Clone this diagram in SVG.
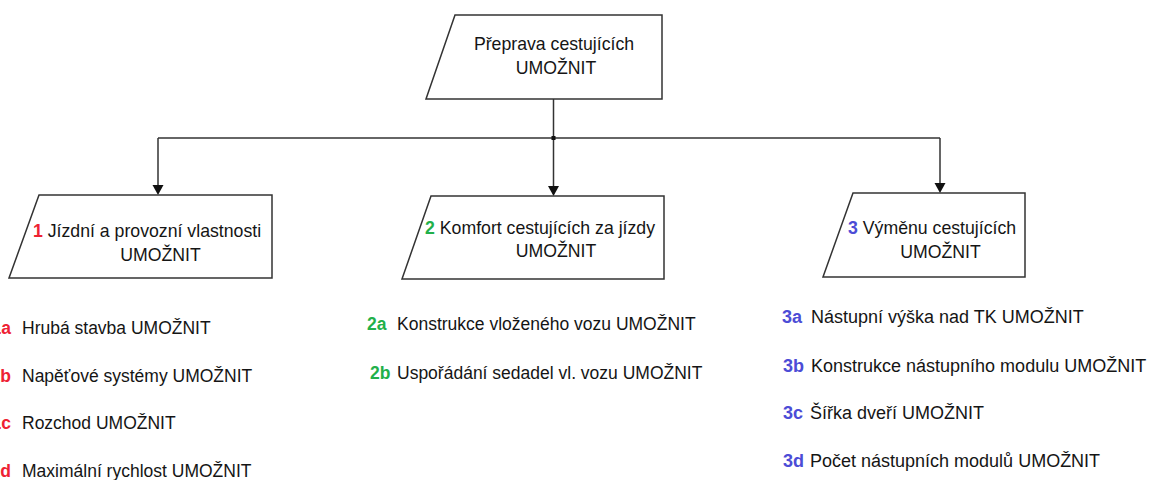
<svg xmlns="http://www.w3.org/2000/svg" width="1154" height="480" viewBox="0 0 1154 480">
  <style>
    .box { fill: #ffffff; stroke: #333333; stroke-width: 1.5; }
    .t { font-family: "Liberation Sans", Arial, sans-serif; font-size: 17.7px; fill: #151515; }
    .li { font-family: "Liberation Sans", Arial, sans-serif; font-size: 17.5px; fill: #151515; }
    .li3 { font-family: "Liberation Sans", Arial, sans-serif; font-size: 18px; fill: #151515; }
    .r { fill: #ee2233; font-weight: bold; }
    .g { fill: #22b04a; font-weight: bold; }
    .b { fill: #4c4cd6; font-weight: bold; }
    .con { fill: none; stroke: #333333; stroke-width: 1.5; }
  </style>
  <rect width="1154" height="480" fill="#ffffff"/>

  <g id="connectors">
    <path class="con" d="M553.5,99 V138"/>
    <path class="con" d="M158,138 H940"/>
    <path class="con" d="M158,138 V185"/>
    <path class="con" d="M553.5,138 V186"/>
    <path class="con" d="M940,138 V183"/>
    <path d="M152.5,185 L163.5,185 L158,195 Z" fill="#111111"/>
    <path d="M548,186 L559,186 L553.5,196 Z" fill="#111111"/>
    <path d="M934.5,183 L945.5,183 L940,193 Z" fill="#111111"/>
    <rect x="551.5" y="136" width="4" height="4" fill="#111111"/>
  </g>

  <g id="root">
    <path class="box" d="M455,15 H662 V99 H426 Z"/>
    <text class="t" x="554" y="50" text-anchor="middle">Přeprava cestujících</text>
    <text class="t" x="556" y="74" text-anchor="middle">UMOŽNIT</text>
  </g>

  <g id="node1">
    <path class="box" d="M39,195 H272 V278 H9 Z"/>
    <text class="t" x="33" y="237"><tspan class="r">1</tspan> Jízdní a provozní vlastnosti</text>
    <text class="t" x="160.5" y="261" text-anchor="middle">UMOŽNIT</text>
  </g>

  <g id="node2">
    <path class="box" d="M431,196 H664 V279 H402 Z"/>
    <text class="t" x="425" y="234"><tspan class="g">2</tspan> Komfort cestujících za jízdy</text>
    <text class="t" x="556" y="257" text-anchor="middle">UMOŽNIT</text>
  </g>

  <g id="node3">
    <path class="box" d="M853,193 H1025 V277 H823 Z"/>
    <text class="t" x="848" y="234"><tspan class="b">3</tspan> Výměnu cestujících</text>
    <text class="t" x="940.5" y="258" text-anchor="middle">UMOŽNIT</text>
  </g>

  <g id="list1">
    <text class="li r" x="11" y="334" text-anchor="end">1a</text>
    <text class="li" x="22" y="334">Hrubá stavba UMOŽNIT</text>
    <text class="li r" x="11" y="382" text-anchor="end">1b</text>
    <text class="li" x="22" y="382">Napěťové systémy UMOŽNIT</text>
    <text class="li r" x="11" y="429" text-anchor="end">1c</text>
    <text class="li" x="22" y="429">Rozchod UMOŽNIT</text>
    <text class="li r" x="11" y="477" text-anchor="end">1d</text>
    <text class="li" x="22" y="477">Maximální rychlost UMOŽNIT</text>
  </g>

  <g id="list2">
    <text class="li g" x="367" y="330">2a</text>
    <text class="li" x="397" y="330">Konstrukce vloženého vozu UMOŽNIT</text>
    <text class="li g" x="370" y="379">2b</text>
    <text class="li" x="397" y="379">Uspořádání sedadel vl. vozu UMOŽNIT</text>
  </g>

  <g id="list3">
    <text class="li3 b" x="782" y="323">3a</text>
    <text class="li3" x="811" y="323">Nástupní výška nad TK UMOŽNIT</text>
    <text class="li3 b" x="783" y="372">3b</text>
    <text class="li3" x="811" y="372">Konstrukce nástupního modulu UMOŽNIT</text>
    <text class="li3 b" x="783" y="419">3c</text>
    <text class="li3" x="810" y="419">Šířka dveří UMOŽNIT</text>
    <text class="li3 b" x="783" y="467">3d</text>
    <text class="li3" x="810" y="467">Počet nástupních modulů UMOŽNIT</text>
  </g>
</svg>
